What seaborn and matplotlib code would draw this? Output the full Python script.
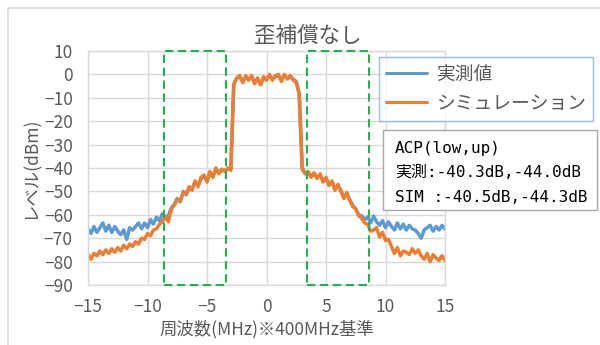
import numpy as np
import pandas as pd
import matplotlib
matplotlib.use("Agg")
import matplotlib.pyplot as plt
from matplotlib.patches import Rectangle
from matplotlib.lines import Line2D
import seaborn as sns

# Frequency offset axis (MHz), 0.25 MHz steps from -15 to 15
freq = np.arange(-15, 15.001, 0.25)

# Measured spectrum (dBm)
measured = [
    -66.0, -68.0, -65.0, -67.5, -65.5, -63.5, -67.0, -64.5, -67.5, -65.0,
    -67.0, -68.5, -66.5, -70.5, -65.5, -66.5, -65.0, -63.5, -66.0, -63.5,
    -65.5, -62.0, -64.0, -61.0, -62.5, -59.5, -61.0, -60.5, -57.0, -55.5,
    -53.0, -54.5, -50.0, -51.5, -48.5, -49.0, -46.0, -47.5, -44.5, -43.5,
    -45.5, -42.0, -43.5, -40.5, -42.0, -41.0, -41.0, -40.5, -40.5, -4.5,
    -1.5, -1.0, -3.0, -1.0, -2.0, -1.0, -3.5, -2.0, -4.0, -1.5,
    -2.0, -0.5, -2.0, -1.0, -0.5, -2.5, -0.5, -1.5, -1.0, -2.0,
    -3.0, -8.5, -40.0, -42.0, -42.0, -43.5, -42.5, -44.0, -43.0, -45.5,
    -44.5, -47.0, -46.0, -49.0, -47.5, -49.5, -52.5, -51.0, -53.5, -56.0,
    -57.5, -60.0, -60.5, -62.0, -61.0, -63.5, -60.5, -63.0, -64.5, -62.5,
    -65.5, -63.0, -65.0, -66.5, -63.5, -66.0, -64.0, -66.5, -64.5, -66.0,
    -66.5, -68.0, -70.0, -66.5, -65.5, -64.5, -67.0, -65.0, -66.5, -64.5,
    -66.0,
]

# Simulated spectrum (dBm)
simulated = [
    -77.0, -79.0, -76.5, -77.5, -75.5, -77.0, -75.0, -76.5, -74.5, -76.0,
    -74.0, -75.5, -73.0, -74.5, -72.5, -73.5, -71.5, -72.5, -70.0, -70.5,
    -68.0, -69.0, -66.5, -66.0, -64.0, -63.0, -60.5, -63.0, -57.5, -56.0,
    -53.5, -54.0, -50.5, -51.0, -48.0, -49.5, -45.5, -48.0, -44.0, -43.0,
    -46.0, -41.5, -44.0, -40.0, -42.5, -40.5, -41.5, -40.0, -41.0, -4.0,
    -1.5, -0.5, -3.5, -0.5, -2.5, -0.5, -4.0, -1.5, -4.5, -1.0,
    -2.5, 0.0, -2.5, -0.5, 0.0, -3.0, 0.0, -2.0, -0.5, -2.5,
    -3.5, -8.0, -40.5, -42.5, -41.5, -44.0, -42.0, -44.5, -42.5, -46.0,
    -44.0, -47.5, -45.5, -49.5, -47.0, -50.0, -53.0, -50.5, -54.0, -56.5,
    -57.5, -60.5, -61.5, -63.5, -64.0, -67.0, -66.5, -65.5, -69.5, -67.5,
    -71.0, -70.5, -73.5, -76.5, -74.0, -77.5, -75.5, -76.0, -77.0, -74.5,
    -76.5, -75.0, -77.5, -79.0, -76.5, -80.0, -77.0, -78.5, -79.5, -77.5,
    -79.5,
]

series_names = ["実測値", "シミュレーション"]
series_colors = ["#5B9BD5", "#ED7D31"]

# Adjacent-channel windows (MHz)
acp_windows = [(-8.6, -3.4), (3.4, 8.6)]

x_ticks = [-15, -10, -5, 0, 5, 10, 15]
y_ticks = [10, 0, -10, -20, -30, -40, -50, -60, -70, -80, -90]

title = "歪補償なし"
x_label = "周波数(MHz)※400MHz基準"
y_label = "レベル(dBm)"
acp_lines = ["ACP(low,up)", "実測:-40.3dB,-44.0dB", "SIM :-40.5dB,-44.3dB"]

df = pd.concat([
    pd.DataFrame({"freq": freq, "level": measured, "series": series_names[0]}),
    pd.DataFrame({"freq": freq, "level": simulated, "series": series_names[1]}),
], ignore_index=True)

sns.set_theme(style="white")
plt.rcParams["font.family"] = ["Noto Sans CJK JP", "DejaVu Sans"]
plt.rcParams["axes.unicode_minus"] = True

W, H = 600, 345
fig = plt.figure(figsize=(W / 100, H / 100), dpi=100)
fig.patch.set_facecolor("white")
ax = fig.add_axes([88 / W, 1 - 285 / H, (445 - 88) / W, (285 - 51) / H])

sns.lineplot(data=df, x="freq", y="level", hue="series",
             palette=dict(zip(series_names, series_colors)),
             hue_order=series_names, estimator=None, sort=False,
             linewidth=2.5, ax=ax, legend=False)

ax.set_xlim(-15, 15)
ax.set_ylim(-90, 10)
ax.set_xticks(x_ticks)
ax.set_yticks(y_ticks)
ax.grid(True, color="#D9D9D9", linewidth=1.0)
for s in ax.spines.values():
    s.set_color("#D9D9D9")
    s.set_linewidth(1.0)
ax.tick_params(axis="both", length=0, labelsize=12.5, colors="#595959")
ax.tick_params(axis="y", pad=11)
ax.tick_params(axis="x", pad=9)
ax.set_xlabel(x_label, fontsize=12.5, color="#595959", labelpad=3)
ax.set_ylabel(y_label, fontsize=12.5, color="#595959", labelpad=3)

# Dashed ACP windows
for lo, hi in acp_windows:
    ax.add_patch(Rectangle((lo, -90), hi - lo, 100, fill=False,
                           edgecolor="#22B14C", linewidth=1.5,
                           linestyle=(0, (4, 2.2)), clip_on=False, zorder=5))

fig.text(308 / W, 1 - 37 / H, title, ha="center", va="center",
         fontsize=15.5, color="#595959")

# Legend
handles = [Line2D([], [], color=c, linewidth=2.2) for c in series_colors]
leg = ax.legend(handles, series_names, loc="upper left",
                bbox_to_anchor=(379 / W, 1 - 57 / H),
                bbox_transform=fig.transFigure, fontsize=13.5,
                frameon=True, fancybox=False, handlelength=2.2,
                handletextpad=0.5, borderpad=0.35, labelspacing=0.45,
                borderaxespad=0)
leg.get_frame().set_edgecolor("#7FAEDC")
leg.get_frame().set_linewidth(1.0)
for t in leg.get_texts():
    t.set_color("#595959")

# ACP annotation box
fig.add_artist(Rectangle((383 / W, 1 - 210 / H), (597 - 383) / W, 80 / H,
                         transform=fig.transFigure, facecolor="white",
                         edgecolor="#A6A6A6", linewidth=1.0))
for i, line in enumerate(acp_lines):
    fig.text(395 / W, 1 - (148 + 24.5 * i) / H, line, ha="left", va="center",
             fontsize=11.5, color="black",
             family=["DejaVu Sans Mono", "Noto Sans CJK JP"])

# Outer chart border
fig.add_artist(Line2D([8 / W, 8 / W], [0, 1 - 8 / H], transform=fig.transFigure,
                      color="#D9D9D9", linewidth=1.2))
fig.add_artist(Line2D([8 / W, 1], [1 - 8 / H, 1 - 8 / H], transform=fig.transFigure,
                      color="#D9D9D9", linewidth=1.2))

fig.savefig("out.png", dpi=100)
